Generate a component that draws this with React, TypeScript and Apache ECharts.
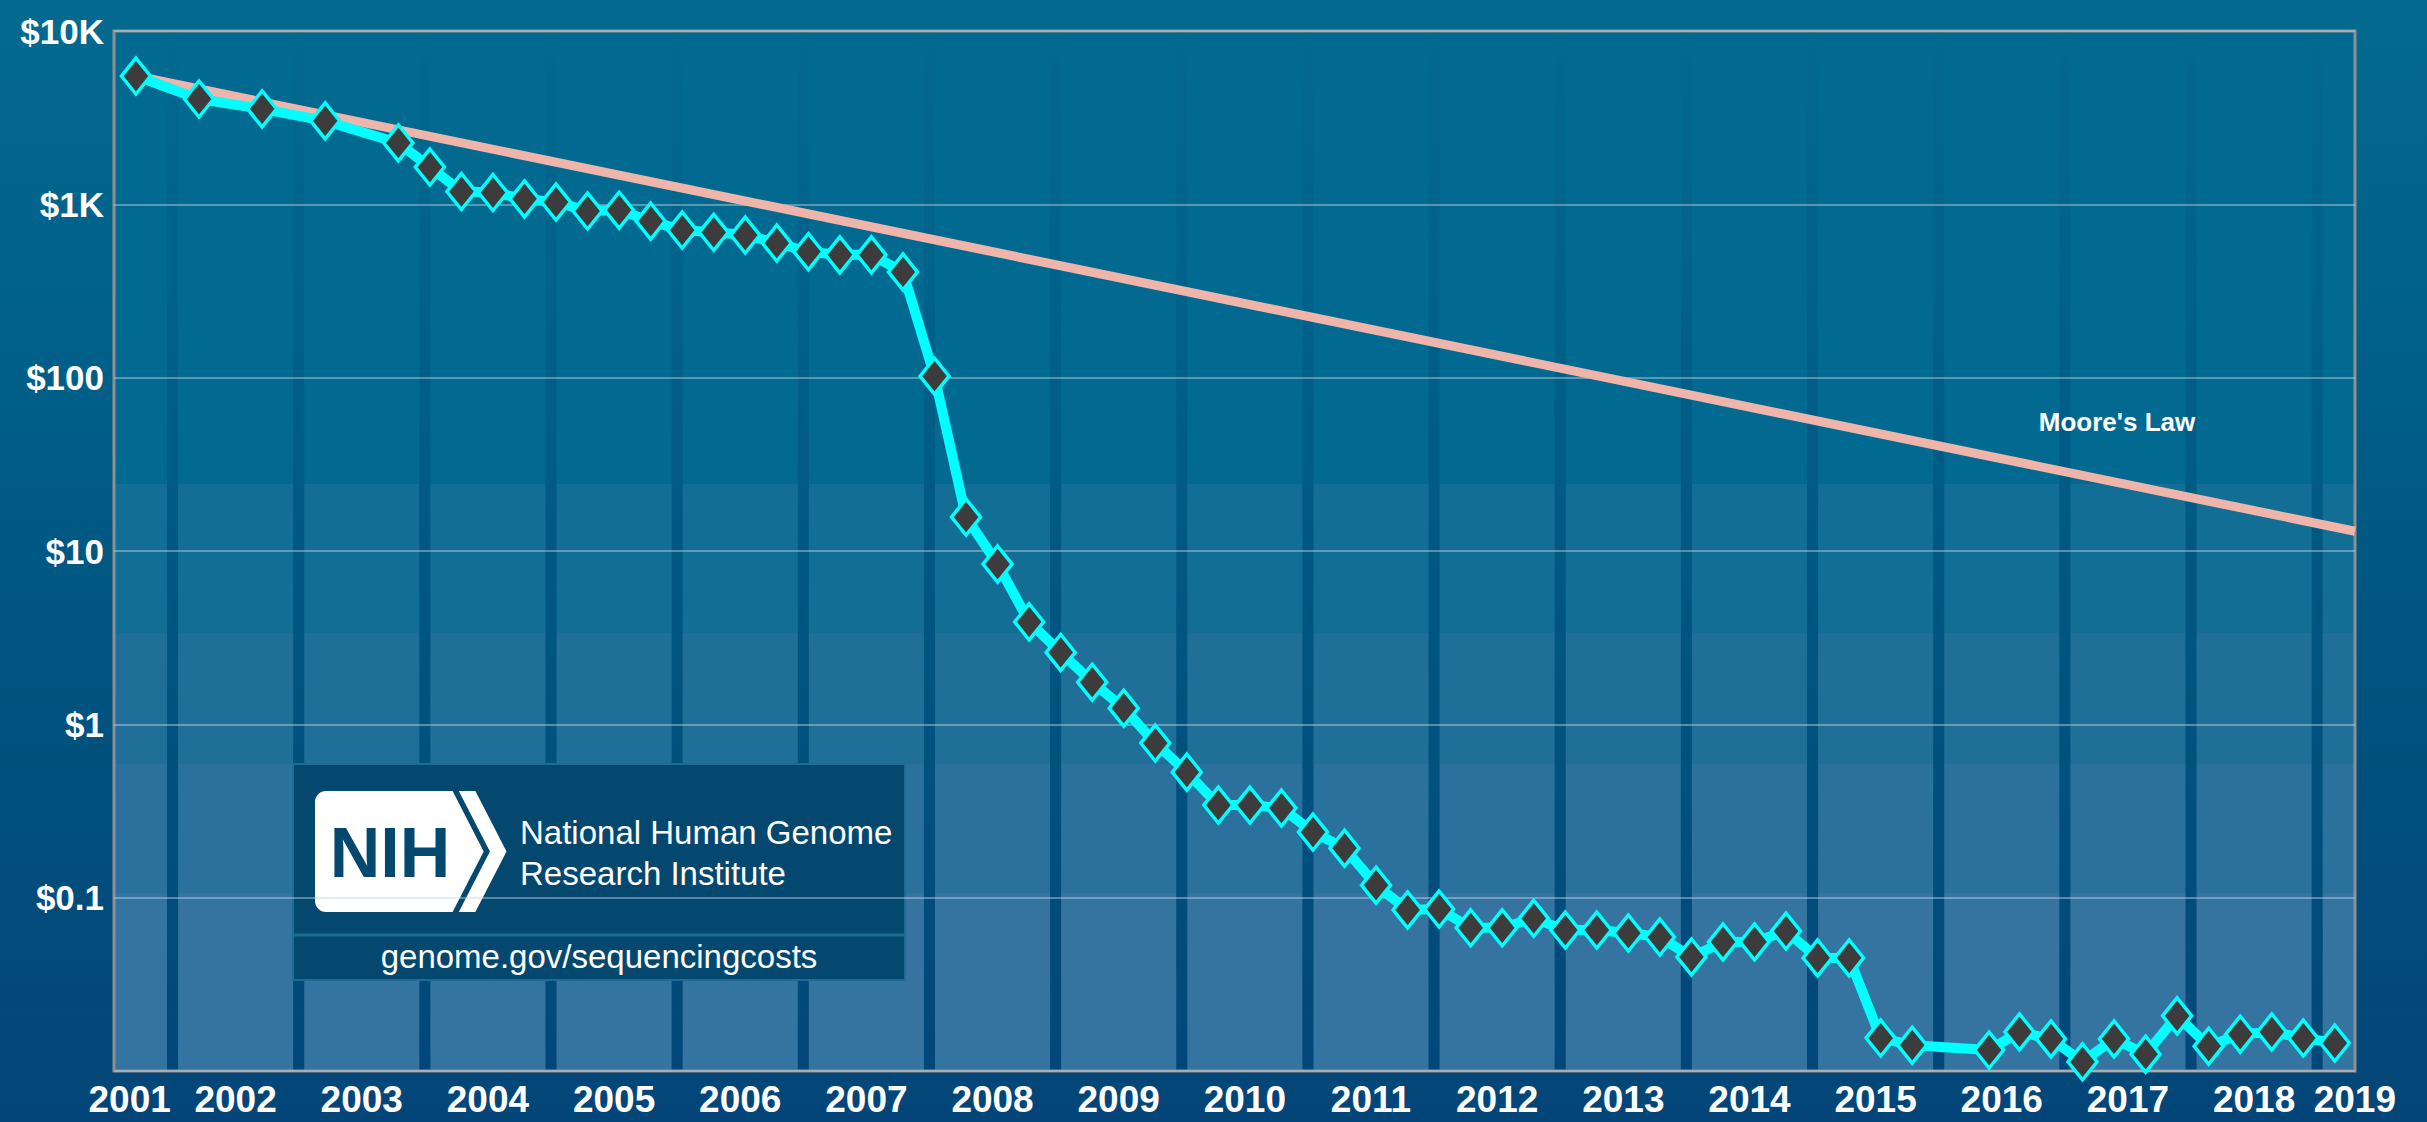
import React, { useEffect, useRef } from 'react';
import * as echarts from 'echarts';

// ---- Data ----
const seqDates = [
  2001.71, 2002.21, 2002.71, 2003.21, 2003.79,
  2004.04, 2004.29, 2004.54, 2004.79, 2005.04, 2005.29, 2005.54, 2005.79,
  2006.04, 2006.29, 2006.54, 2006.79, 2007.04, 2007.29, 2007.54, 2007.79,
  2008.04, 2008.29, 2008.54, 2008.79, 2009.04, 2009.29, 2009.54, 2009.79,
  2010.04, 2010.29, 2010.54, 2010.79, 2011.04, 2011.29, 2011.54, 2011.79,
  2012.04, 2012.29, 2012.54, 2012.79, 2013.04, 2013.29, 2013.54, 2013.79,
  2014.04, 2014.29, 2014.54, 2014.79, 2015.04, 2015.29, 2015.54, 2015.79,
  2016.40, 2016.64, 2016.89, 2017.14, 2017.39, 2017.64, 2017.89,
  2018.14, 2018.39, 2018.64, 2018.89, 2019.14,
];
const seqCost = [
  5500, 4050, 3550, 3030, 2260,
  1640, 1185, 1170, 1075, 1030, 915, 925, 800,
  710, 690, 665, 598, 533, 511, 511, 407,
  102, 15.7, 8.4, 3.9, 2.6, 1.75, 1.24, 0.78,
  0.53, 0.342, 0.342, 0.329, 0.239, 0.193, 0.118, 0.085,
  0.086, 0.067, 0.067, 0.076, 0.065, 0.065, 0.0625, 0.0593,
  0.0455, 0.0555, 0.0555, 0.0642, 0.0449, 0.0449, 0.0155, 0.0141,
  0.0132, 0.0168, 0.0153, 0.0113, 0.0153, 0.0125, 0.0208,
  0.0139, 0.0163, 0.0168, 0.0155, 0.0145,
];
const mooreDates = [2001.71, 2019.3];
const mooreCost = [5500, 13];

const yTickValues = [10000, 1000, 100, 10, 1, 0.1];
const yTickLabels = ['$10K', '$1K', '$100', '$10', '$1', '$0.1'];

const xLabelYears = ['2001', '2002', '2003', '2004', '2005', '2006', '2007', '2008', '2009', '2010',
  '2011', '2012', '2013', '2014', '2015', '2016', '2017', '2018', '2019'];
const xLabelPositions = [2001.66, 2002.5, 2003.5, 2004.5, 2005.5, 2006.5, 2007.5, 2008.5, 2009.5, 2010.5,
  2011.5, 2012.5, 2013.5, 2014.5, 2015.5, 2016.5, 2017.5, 2018.5, 2019.299];

const yearBoundaries = [2002, 2003, 2004, 2005, 2006, 2007, 2008, 2009, 2010, 2011,
  2012, 2013, 2014, 2015, 2016, 2017, 2018, 2019];

const X_MIN = 2001.536;
const X_MAX = 2019.3;
const Y_MIN = 0.01;
const Y_MAX = 10000;

const FONT = "'Liberation Sans', Arial, Helvetica, sans-serif";

export default function App() {
  const ref = useRef<HTMLDivElement>(null);

  useEffect(() => {
    document.body.style.margin = '0';
    document.body.style.overflow = 'hidden';
    if (!ref.current) return;
    const chart = echarts.init(ref.current, null, { renderer: 'svg' });

    const halfGap = 0.044;
    const columns: number[][] = [];
    const edges = [X_MIN, ...yearBoundaries, X_MAX];
    for (let i = 0; i < edges.length - 1; i++) {
      const a = i === 0 ? edges[i] : edges[i] + halfGap;
      const b = i === edges.length - 2 ? edges[i + 1] : edges[i + 1] - halfGap;
      columns.push([a, b, 1]);
    }

    const bandColors = ['#026a91', '#136e95', '#1f6f99', '#2a719d', '#3574a1'];
    const bandEdges = [0, 0.4356, 0.5788, 0.7048, 0.8288, 1];
    const stops: { offset: number; color: string }[] = [];
    for (let i = 0; i < bandColors.length; i++) {
      stops.push({ offset: bandEdges[i], color: bandColors[i] });
      stops.push({ offset: bandEdges[i + 1], color: bandColors[i] });
    }

    const option: any = {
      animation: false,
      backgroundColor: 'transparent',
      grid: {
        left: 114,
        right: 72,
        top: 31,
        bottom: 51,
        show: true,
        borderColor: '#8f8f8f',
        borderWidth: 3,
        backgroundColor: 'transparent',
      },
      xAxis: {
        type: 'value',
        min: X_MIN,
        max: X_MAX,
        splitLine: { show: false },
        axisLine: { show: false },
        axisTick: { show: false },
        axisLabel: {
          customValues: xLabelPositions,
          showMinLabel: true,
          showMaxLabel: true,
          color: '#ffffff',
          fontFamily: FONT,
          fontWeight: 'bold',
          fontSize: 37,
          lineHeight: 37,
          margin: 10,
          formatter: (v: number) => {
            let best = 0;
            for (let i = 0; i < xLabelPositions.length; i++) {
              if (Math.abs(xLabelPositions[i] - v) < Math.abs(xLabelPositions[best] - v)) best = i;
            }
            return xLabelYears[best];
          },
        },
      },
      yAxis: {
        type: 'log',
        logBase: 10,
        min: Y_MIN,
        max: Y_MAX,
        splitNumber: 6,
        axisLine: { show: false },
        axisTick: { show: false },
        splitLine: { show: true, lineStyle: { color: 'rgba(195,212,225,0.6)', width: 1.5 } },
        axisLabel: {
          color: '#ffffff',
          fontFamily: FONT,
          fontWeight: 'bold',
          fontSize: 35,
          margin: 10,
          formatter: (v: number) => {
            const i = yTickValues.findIndex((t) => Math.abs(Math.log10(t) - Math.log10(v)) < 1e-6);
            return i >= 0 ? yTickLabels[i] : '';
          },
        },
      },
      series: [
        {
          type: 'custom',
          name: 'columns',
          z: -1,
          silent: true,
          encode: { x: [0, 1], y: 2 },
          data: columns,
          renderItem: (params: any, api: any) => {
            const p0 = api.coord([api.value(0), Y_MAX]);
            const p1 = api.coord([api.value(1), Y_MIN]);
            return {
              type: 'rect',
              shape: { x: p0[0], y: p0[1], width: p1[0] - p0[0], height: p1[1] - p0[1] },
              style: { fill: new echarts.graphic.LinearGradient(0, 0, 0, 1, stops) },
            };
          },
        },
        {
          type: 'line',
          name: "Moore's Law",
          z: 2,
          symbol: 'none',
          data: mooreDates.map((d, i) => [d, mooreCost[i]]),
          lineStyle: { color: '#efb5ab', width: 9 },
        },
        {
          type: 'line',
          name: 'Cost per Raw Megabase of DNA Sequence',
          z: 3,
          symbol: 'diamond',
          symbolSize: [29, 36],
          showAllSymbol: true,
          data: seqDates.map((d, i) => [d, seqCost[i]]),
          lineStyle: { color: '#00ffff', width: 10 },
          itemStyle: { color: '#3c3c3c', borderColor: '#00ffff', borderWidth: 3.5 },
        },
      ],
      graphic: [
        {
          type: 'group',
          z: 100,
          children: [
            {
              type: 'rect',
              shape: { x: 293, y: 764, width: 612, height: 216 },
              style: { fill: '#04476f', stroke: '#1d6c94', lineWidth: 2 },
            },
            {
              type: 'line',
              shape: { x1: 294, y1: 935, x2: 904, y2: 935 },
              style: { stroke: '#1d6c94', lineWidth: 3 },
            },
            {
              type: 'rect',
              shape: { x: 315, y: 791, width: 40, height: 121, r: [11, 0, 0, 11] },
              style: { fill: '#ffffff' },
            },
            {
              type: 'polygon',
              shape: { points: [[340, 791], [452.6, 791], [483.7, 851.5], [452.6, 912], [340, 912]] },
              style: { fill: '#ffffff' },
            },
            {
              type: 'polygon',
              shape: { points: [[458.8, 791], [475.4, 791], [506.5, 851.5], [475.4, 912], [458.8, 912], [489.9, 851.5]] },
              style: { fill: '#ffffff' },
            },
            {
              type: 'text',
              x: 390,
              y: 853,
              style: {
                text: 'NIH',
                fill: '#04476f',
                fontFamily: FONT,
                fontWeight: 'bold',
                fontSize: 70,
                align: 'center',
                verticalAlign: 'middle',
              },
            },
            {
              type: 'text',
              x: 520,
              y: 832,
              style: {
                text: 'National Human Genome',
                fill: '#ffffff',
                fontFamily: FONT,
                fontSize: 33,
                align: 'left',
                verticalAlign: 'middle',
              },
            },
            {
              type: 'text',
              x: 520,
              y: 873,
              style: {
                text: 'Research Institute',
                fill: '#ffffff',
                fontFamily: FONT,
                fontSize: 33,
                align: 'left',
                verticalAlign: 'middle',
              },
            },
            {
              type: 'text',
              x: 599,
              y: 956,
              style: {
                text: 'genome.gov/sequencingcosts',
                fill: '#ffffff',
                fontFamily: FONT,
                fontSize: 33,
                align: 'center',
                verticalAlign: 'middle',
              },
            },
          ],
        },
        {
          type: 'text',
          z: 100,
          x: 2117,
          y: 422,
          style: {
            text: "Moore's Law",
            fill: '#ffffff',
            fontFamily: FONT,
            fontWeight: 'bold',
            fontSize: 26,
            align: 'center',
            verticalAlign: 'middle',
          },
        },
      ],
    };

    chart.setOption(option);
    return () => {
      chart.dispose();
    };
  }, []);

  return (
    <div
      ref={ref}
      style={{
        position: 'fixed',
        left: 0,
        top: 0,
        width: 2427,
        height: 1122,
        background: 'linear-gradient(to bottom, #046a8f 0%, #006089 30%, #01547f 60%, #034578 100%)',
      }}
    />
  );
}
